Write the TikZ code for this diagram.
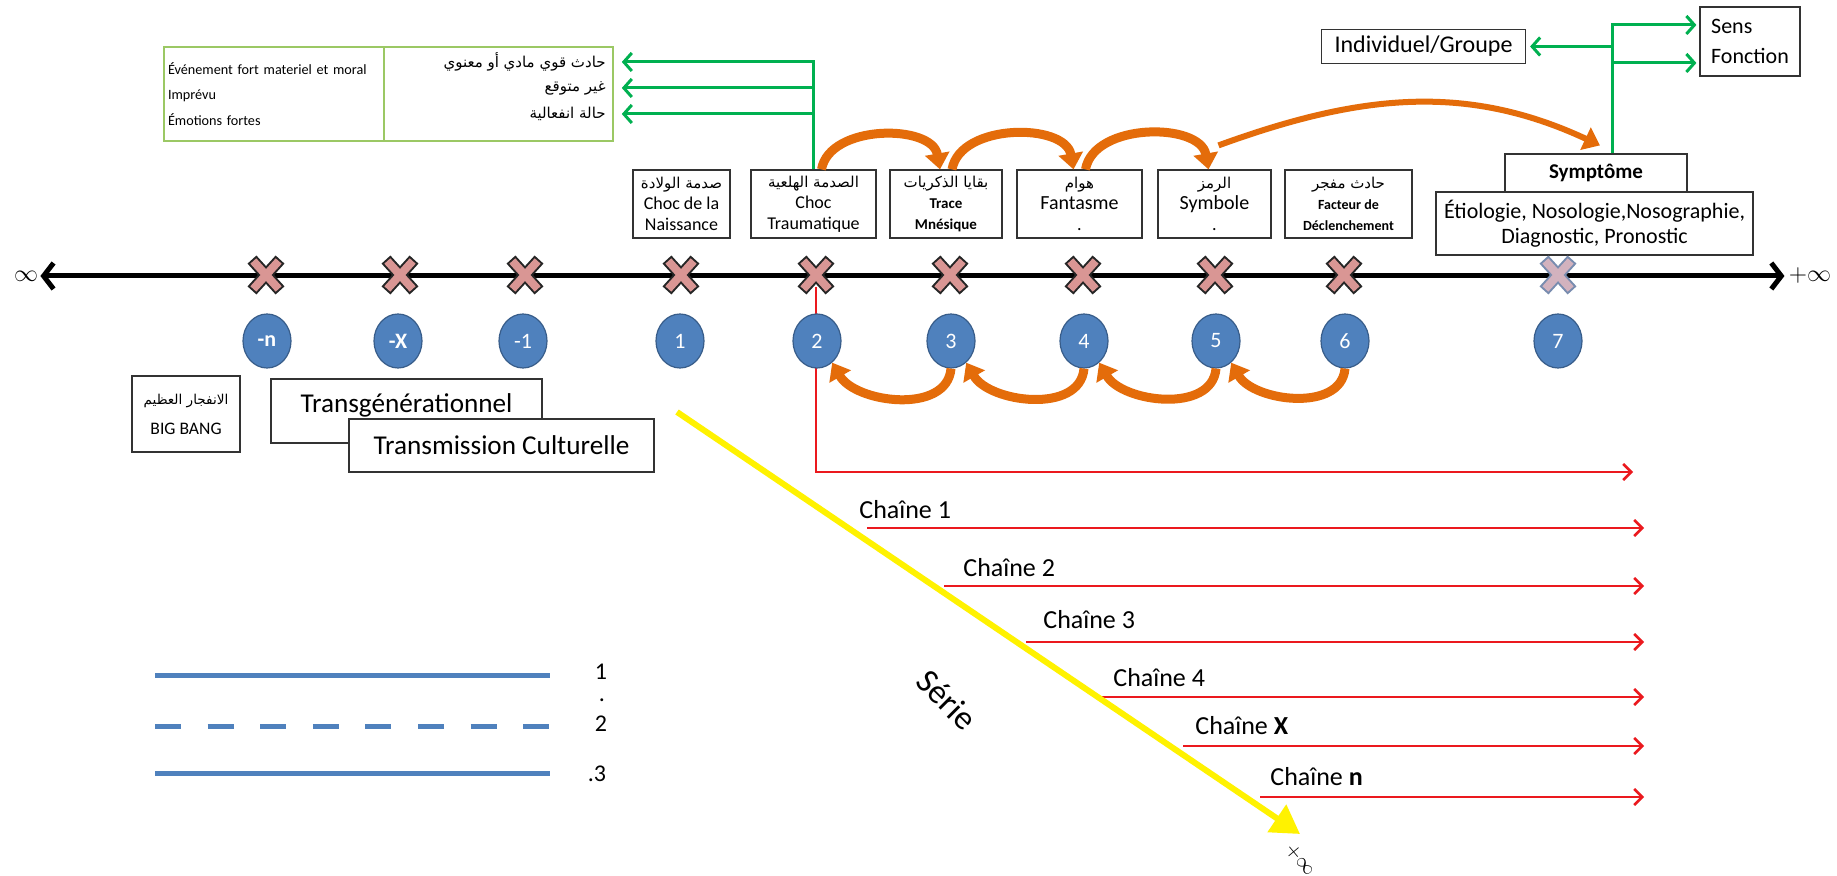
\documentclass[tikz,border=0pt]{standalone}
\usepackage{fontspec}
\setmainfont{Carlito}
\newfontfamily\arabicfont[Script=Arabic]{DejaVu Sans}
\TeXXeTstate=1
\usetikzlibrary{positioning, arrows.meta, shapes.geometric}

\definecolor{ballblue}{RGB}{79,129,189}
\definecolor{balledge}{RGB}{56,93,138}
\definecolor{crosspink}{RGB}{217,150,148}
\definecolor{crossfade}{RGB}{210,178,190}
\definecolor{fadeedge}{RGB}{120,140,175}
\definecolor{linkgreen}{RGB}{0,176,80}
\definecolor{cellgreen}{RGB}{155,200,100}
\definecolor{arcorange}{RGB}{228,108,10}
\definecolor{chainred}{RGB}{235,25,30}

\newcommand{\fsz}[2]{\fontsize{#1}{#2}\selectfont}
\newcommand{\arabtxt}[2][7.5]{{\arabicfont\fontsize{#1}{#1}\selectfont\beginR #2\endR}}

\begin{document}
\begin{tikzpicture}[x=0.5pt, y=-0.5pt,
    labelbox/.style={draw=black!80, line width=0.6pt, fill=white, inner sep=2pt, align=center},
    stagebox/.style={labelbox, minimum height=34pt, font=\fsz{9}{10.5}},
    greencell/.style={draw=cellgreen, line width=0.8pt, minimum height=47pt},
    numball/.style={ellipse, fill=ballblue, draw=balledge, line width=0.6pt, minimum width=24pt, minimum height=27pt, inner sep=1pt, text=white, font=\fsz{11}{12}},
    crossedge/.style={line width=6pt, line cap=rect, draw=black!85},
    crossfill/.style={line width=4pt, line cap=rect, draw=crosspink},
    axisline/.style={line width=2.5pt, {Straight Barb[length=5pt,width=13pt]}-{Straight Barb[length=5pt,width=13pt]}},
    greenarrow/.style={draw=linkgreen, line width=1.5pt, -{Straight Barb[length=4pt,width=9pt]}},
    arcarrow/.style={draw=arcorange, line width=4.5pt, -{Triangle[length=8pt,width=12pt]}},
    chainarrow/.style={draw=chainred, line width=1.3pt, -{Straight Barb[length=4pt,width=8pt]}},
    chainlabel/.style={anchor=west, inner sep=0pt, font=\fsz{13}{15}},
    legendline/.style={draw=ballblue, line width=2.5pt},
    legendnum/.style={inner sep=0pt, font=\fsz{12}{14}}
  ]
\useasboundingbox (0,0) rectangle (1837,876);
\fill[white] (0,0) rectangle (1837,876);

\node[greencell, minimum width=110pt, inner sep=2pt, align=left, text width=106pt, font=\fsz{7.1}{12.75}] (lcell) at (274,94) {Événement fort materiel et moral\\Imprévu\\Émotions fortes};
\node[greencell, minimum width=114.5pt] (rcell) at (498.5,94) {};
\node[anchor=east, inner sep=0pt] (ar1) at (606,62) {\arabtxt{حادث قوي مادي أو معنوي}};
\node[anchor=east, inner sep=0pt] (ar2) at (606,88) {\arabtxt{غير متوقع}};
\node[anchor=east, inner sep=0pt] (ar3) at (606,114) {\arabtxt{حالة انفعالية}};

\node[stagebox, minimum width=48.5pt] (stage1) at (681.5,204) {\arabtxt{صدمة الولادة}\\Choc de la\\Naissance};
\node[stagebox, minimum width=62.5pt] (stage2) at (813.5,204) {\arabtxt{الصدمة الهلعية}\\Choc\\Traumatique};
\node[stagebox, minimum width=56pt] (stage3) at (946,204) {\arabtxt{بقايا الذكريات}\\{\fsz{7.5}{10.5}\bfseries Trace}\\{\fsz{7.5}{10.5}\bfseries Mnésique}};
\node[stagebox, minimum width=62.5pt] (stage4) at (1079.5,204) {\arabtxt{هوام}\\{\fsz{10}{10.5}Fantasme}\\.};
\node[stagebox, minimum width=56.5pt] (stage5) at (1214.5,204) {\arabtxt{الرمز}\\{\fsz{10}{10.5}Symbole}\\.};
\node[stagebox, minimum width=63.5pt] (stage6) at (1348.5,204) {\arabtxt{حادث مفجر}\\{\fsz{7}{10.5}\bfseries Facteur de}\\{\fsz{7}{10.5}\bfseries Déclenchement}};

\draw[greenarrow, shorten >=4pt] (stage2.north) |- (rcell.east |- ar1);
\foreach \a in {ar2, ar3}
  \draw[greenarrow, shorten >=4pt] (stage2.north |- \a) -- (rcell.east |- \a);

\draw[arcarrow] ([xshift=4pt]stage2.north) to[out=80,in=100] ([xshift=-3pt]stage3.north);
\draw[arcarrow] ([xshift=3pt]stage3.north) to[out=80,in=100] ([xshift=-3pt]stage4.north);
\draw[arcarrow] ([xshift=3pt]stage4.north) to[out=80,in=100] ([xshift=-3pt]stage5.north);

\node[labelbox, minimum width=91pt, minimum height=19pt, font=\fsz{10.5}{12}\bfseries] (symp) at (1596,173) {Symptôme};
\node[labelbox, minimum width=158.5pt, minimum height=31.5pt, font=\fsz{11}{12.5}] (etio) at (1594.5,223.5) {Étiologie, Nosologie,Nosographie,\\Diagnostic, Pronostic};
\node[labelbox, minimum width=102pt, minimum height=17pt, font=\fsz{12}{13}] (indiv) at (1423.5,46.5) {Individuel/Groupe};
\node[labelbox, minimum width=50pt, minimum height=34.5pt, align=left, font=\fsz{11}{15}] (sens) at (1750,41.5) {Sens\\Fonction};

\draw[arcarrow, line width=3pt] ([xshift=2pt,yshift=12pt]stage5.north) to[out=20,in=155] ([xshift=2pt,yshift=4pt]symp.north);

\coordinate (gfork) at (1612,25);
\coordinate (sensB) at ([yshift=-10.75pt]sens.west);
\draw[greenarrow, shorten >=1.5pt] (symp.north -| gfork) |- (sens.west |- gfork);
\draw[greenarrow, shorten >=1.5pt] (gfork |- sensB) -- (sensB);
\draw[greenarrow, shorten >=2pt] (gfork |- indiv.east) -- (indiv.east);

\node[font=\fsz{12}{14}, inner sep=1pt] (minf) at (26,276) {$\infty$};
\node[font=\fsz{12}{14}, inner sep=2pt] (pinf) at (1810,276) {$+\infty$};
\draw[axisline] (minf) -- (pinf);

\foreach \kname/\kx in {kn/266, kX/400, km1/525, k1/681, k2/816, k3/950, k4/1083, k5/1215, k6/1344} {
  \coordinate (\kname) at (\kx,275);
  \draw[crossedge] (\kx-10,264) -- (\kx+10,286) (\kx-10,286) -- (\kx+10,264);
  \draw[crossfill] (\kx-10,264) -- (\kx+10,286) (\kx-10,286) -- (\kx+10,264);
}
\coordinate (k7) at (1558,275);
\draw[crossedge, draw=fadeedge] (1548,264) -- (1568,286) (1548,286) -- (1568,264);
\draw[crossfill, draw=crossfade] (1548,264) -- (1568,286) (1548,286) -- (1568,264);

\coordinate (redend) at (1633,472);
\draw[chainarrow] ([yshift=-6pt]k2) |- (redend);

\foreach \bname/\bx/\btext in {balln/267/\textbf{-n}, ballX/398/\textbf{-X}, ballm1/523/-1, ball1/680/1, ball2/817/2, ball3/951/3, ball4/1084/4, ball5/1216/5, ball6/1345/6, ball7/1558/7}
  \node[numball] (\bname) at (\bx,341) {\btext};

\foreach \from/\to in {ball3/ball2, ball4/ball3, ball5/ball4, ball6/ball5}
  \draw[arcarrow] (\from.south) to[out=-95,in=-60] (\to.-55);

\node[labelbox, minimum width=54pt, minimum height=38pt, font=\fsz{8.8}{15}] (bigbang) at (186,414) {\arabtxt[6.8]{الانفجار العظيم}\\BIG BANG};
\node[labelbox, minimum width=135.5pt, minimum height=32pt, text depth=8pt, font=\fsz{13.6}{15}] (transgen) at (406.5,411) {Transgénérationnel};
\node[labelbox, minimum width=152.5pt, minimum height=26.5pt, font=\fsz{13.6}{15}] (transcult) at (501.5,445.5) {Transmission Culturelle};

\foreach \i/\sx/\sy/\lx/\ly/\txt in {1/867/528/859/510/{Chaîne 1}, 2/944/586/963/568/{Chaîne 2}, 3/1026/642/1043/620/{Chaîne 3}, 4/1098/697/1113/678/{Chaîne 4}, X/1183/746/1195/726/{Chaîne \textbf{X}}, n/1260/797/1270/777/{Chaîne \textbf{n}}} {
  \coordinate (cs\i) at (\sx,\sy);
  \coordinate (ce\i) at (1644,\sy);
  \draw[chainarrow] (cs\i) -- (ce\i);
  \node[chainlabel] (cl\i) at (\lx,\ly) {\txt};
}

\coordinate (seriestart) at (677,412);
\coordinate (serieend) at (1300,834);
\draw[draw=yellow, line width=3pt, -{Triangle[length=14pt,width=16pt]}] (seriestart) -- (serieend);
\node[rotate=-45, font=\fsz{17}{19}] (serie) at (947,700) {Série};
\node[rotate=-50, font=\fsz{10}{12}] (serieinf) at (1300,860) {$+\infty$};

\draw[legendline] (155,676) -- (550,676);
\draw[legendline, dash pattern=on 13pt off 13.3pt] (155,726) -- (550,726);
\draw[legendline] (155,773) -- (550,773);
\node[legendnum] (leg1) at (601,672) {1};
\node[legendnum] (legdot) at (602,700) {.};
\node[legendnum] (leg2) at (601,724) {2};
\node[legendnum] (leg3) at (597,774) {.3};
\end{tikzpicture}
\end{document}
